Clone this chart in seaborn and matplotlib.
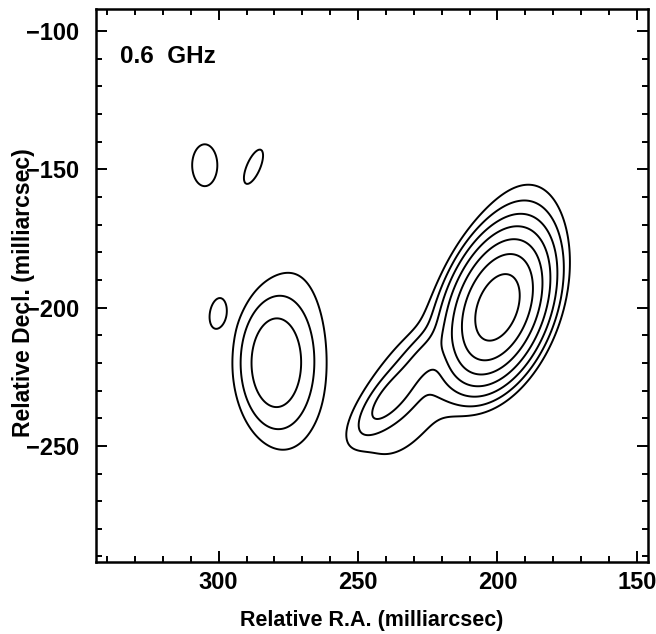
import numpy as np
import matplotlib
matplotlib.use("Agg")
import matplotlib.pyplot as plt
from matplotlib.ticker import MultipleLocator
import seaborn as sns

# elliptical gaussian components
# offsets in mas, peak as fraction of map peak, sigmas in mas, PA on the page (deg)
comp_ra   = [200.0, 192.0, 238.0, 226.0, 232.0, 280.0, 272.0, 305.0, 287.5, 300.5]
comp_dec  = [-200.0, -175.0, -232.0, -217.0, -231.0, -220.0, -216.0, -148.5, -149.0, -202.0]
comp_peak = [1.0, 0.016, 0.045, 0.025, 0.019, 0.066, 0.011, 0.015, 0.015, 0.015]
comp_smaj = [13.1, 17.0, 10.0, 7.0, 21.0, 13.4, 34.0, 8.4, 7.0, 5.6]
comp_smin = [7.5, 10.0, 3.5, 3.5, 11.0, 7.5, 11.0, 5.0, 2.5, 2.8]
comp_pa   = [70, 75, 50, 50, 62, 90, 88, 90, 67, 80]

# contour levels, factor 2 apart
levels = [0.01, 0.02, 0.04, 0.08, 0.16, 0.32, 0.64]

ra = np.arange(140, 350.25, 0.5)
dec = np.arange(-300, -84.75, 0.5)
RA, DEC = np.meshgrid(ra, dec)

img = np.zeros_like(RA)
for x0, y0, p, a, b, t in zip(comp_ra, comp_dec, comp_peak, comp_smaj, comp_smin, comp_pa):
    u = -(RA - x0)          # RA increases to the left
    v = DEC - y0
    th = np.radians(t)
    along = u * np.cos(th) + v * np.sin(th)
    perp = -u * np.sin(th) + v * np.cos(th)
    img += p * np.exp(-0.5 * ((along / a) ** 2 + (perp / b) ** 2))

sns.set_theme(style="ticks", rc={
    "axes.edgecolor": "black", "axes.labelcolor": "black", "text.color": "black",
    "xtick.color": "black", "ytick.color": "black", "axes.linewidth": 1.8})
plt.rcParams["font.family"] = ["Liberation Sans", "DejaVu Sans"]
plt.rcParams["font.weight"] = "bold"

fig = plt.figure(figsize=(6.56, 6.34), dpi=100)
ax = fig.add_axes([96 / 656, 1 - 562 / 634, 552 / 656, 553 / 634])
ax.contour(RA, DEC, img, levels=levels, colors="black", linewidths=1.4)

ax.set_xlim(344, 146)
ax.set_ylim(-292, -92)
ax.xaxis.set_major_locator(MultipleLocator(50))
ax.xaxis.set_minor_locator(MultipleLocator(10))
ax.yaxis.set_major_locator(MultipleLocator(50))
ax.yaxis.set_minor_locator(MultipleLocator(10))
ax.tick_params(which="both", direction="in", top=True, right=True, width=1.4, labelsize=17)
ax.tick_params(which="major", length=8)
ax.tick_params(which="minor", length=4)
ax.tick_params(axis="x", pad=6.5)
ax.tick_params(axis="y", pad=12)

ax.set_xlabel("Relative R.A. (milliarcsec)", fontsize=15.5, fontweight="bold")
ax.set_ylabel("Relative Decl. (milliarcsec)", fontsize=16.5, fontweight="bold")
ax.xaxis.set_label_coords(0.5, -0.086)
ax.yaxis.set_label_coords(-0.11, 0.488)

ax.text(0.0435, 0.902, "0.6  GHz", transform=ax.transAxes, fontsize=17.5,
        fontweight="bold", ha="left", va="baseline")

fig.savefig("out.png", dpi=100)
